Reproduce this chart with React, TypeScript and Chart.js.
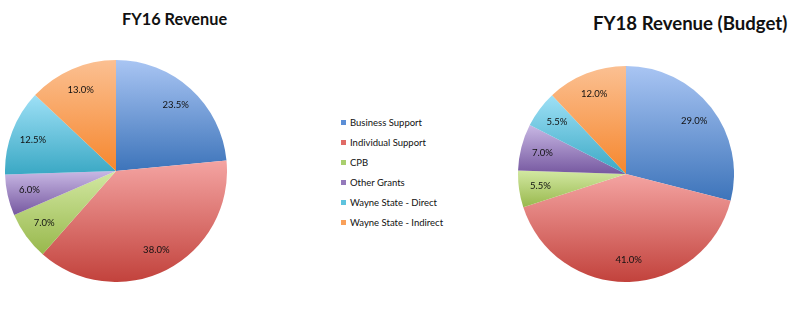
import React, { useEffect, useRef } from "react";
import { Chart, registerables } from "chart.js";

Chart.register(...registerables);

const categories = [
  "Business Support",
  "Individual Support",
  "CPB",
  "Other Grants",
  "Wayne State - Direct",
  "Wayne State - Indirect",
];
const fy16Values = [23.5, 38.0, 7.0, 6.0, 12.5, 13.0];
const fy18Values = [29.0, 41.0, 5.5, 7.0, 5.5, 12.0];
const topColors = ["#a9c5f3", "#f4a4a2", "#d2e8a2", "#c8b8e4", "#9ee0f6", "#fbc092"];
const bottomColors = ["#3d74ba", "#c2423c", "#98b84c", "#7658a0", "#3aa8c4", "#f6872e"];
const legendColors = ["#5b8ed6", "#e06a66", "#a9cf6e", "#9479bb", "#5ec3de", "#f9a05a"];

const FONT = "Lato, 'Open Sans', sans-serif";

function sliceGradient(context: any) {
  const chart = context.chart;
  const area = chart.chartArea;
  const i = context.dataIndex;
  if (!area) return bottomColors[i];
  const data: number[] = context.dataset.data;
  const total = data.reduce((a, b) => a + b, 0);
  let cum = 0;
  for (let k = 0; k < i; k++) cum += data[k];
  const a0 = -Math.PI / 2 + (2 * Math.PI * cum) / total;
  const a1 = -Math.PI / 2 + (2 * Math.PI * (cum + data[i])) / total;
  const cx = (area.left + area.right) / 2;
  const cy = (area.top + area.bottom) / 2;
  const r = Math.min(area.right - area.left, area.bottom - area.top) / 2;
  const ys = [cy, cy + r * Math.sin(a0), cy + r * Math.sin(a1)];
  const within = (a: number) => {
    for (let t = a - 2 * Math.PI; t <= a1 + 1e-9; t += 2 * Math.PI) if (t >= a0) return true;
    return false;
  };
  if (within(Math.PI / 2)) ys.push(cy + r);
  if (within(-Math.PI / 2)) ys.push(cy - r);
  const ymin = Math.min(...ys);
  const ymax = Math.max(...ys);
  const g = chart.ctx.createLinearGradient(0, ymin, 0, ymax + 0.01);
  g.addColorStop(0, topColors[i]);
  g.addColorStop(1, bottomColors[i]);
  return g;
}

const labelPlugin = {
  id: "sliceLabels",
  afterDatasetsDraw(chart: any) {
    const ctx = chart.ctx;
    const meta = chart.getDatasetMeta(0);
    const data: number[] = chart.data.datasets[0].data;
    ctx.save();
    ctx.font = `9.5px ${FONT}`;
    ctx.fillStyle = "#111";
    ctx.textAlign = "center";
    ctx.textBaseline = "middle";
    meta.data.forEach((arc: any, i: number) => {
      const mid = (arc.startAngle + arc.endAngle) / 2;
      const rr = arc.outerRadius * 0.8;
      ctx.fillText(data[i].toFixed(1) + "%", arc.x + Math.cos(mid) * rr, arc.y + Math.sin(mid) * rr);
    });
    ctx.restore();
  },
};

function PieChart({ values, size }: { values: number[]; size: number }) {
  const ref = useRef<HTMLCanvasElement>(null);
  useEffect(() => {
    if (!ref.current) return;
    const chart = new Chart(ref.current, {
      type: "pie",
      data: {
        labels: categories,
        datasets: [
          {
            data: values,
            backgroundColor: sliceGradient as any,
            borderWidth: 0,
          },
        ],
      },
      options: {
        responsive: false,
        animation: false,
        layout: { padding: 0 },
        plugins: { legend: { display: false }, tooltip: { enabled: false } },
      },
      plugins: [labelPlugin],
    });
    return () => chart.destroy();
  }, [values]);
  return <canvas ref={ref} width={size} height={size} style={{ width: size, height: size }} />;
}

export default function App() {
  return (
    <div
      style={{
        position: "absolute",
        left: 0,
        top: 0,
        width: 808,
        height: 310,
        background: "#fff",
        fontFamily: FONT,
        overflow: "hidden",
      }}
    >
      <div
        style={{
          position: "absolute",
          left: 122,
          top: 8,
          fontWeight: 700,
          fontSize: 16.3,
          lineHeight: "22px",
          color: "#111",
          whiteSpace: "nowrap",
        }}
      >
        FY16 Revenue
      </div>
      <div
        style={{
          position: "absolute",
          left: 593,
          top: 11,
          fontWeight: 700,
          fontSize: 18.6,
          lineHeight: "24px",
          color: "#111",
          whiteSpace: "nowrap",
        }}
      >
        FY18 Revenue (Budget)
      </div>
      <div style={{ position: "absolute", left: 5, top: 60 }}>
        <PieChart values={fy16Values} size={222} />
      </div>
      <div style={{ position: "absolute", left: 518, top: 66 }}>
        <PieChart values={fy18Values} size={216} />
      </div>
      <div style={{ position: "absolute", left: 341, top: 112 }}>
        {categories.map((c, i) => (
          <div
            key={c}
            style={{
              height: 20,
              display: "flex",
              alignItems: "center",
              fontSize: 9.5,
              color: "#111",
              whiteSpace: "nowrap",
            }}
          >
            <span
              style={{
                display: "inline-block",
                width: 5,
                height: 5,
                background: legendColors[i],
                marginRight: 4,
              }}
            />
            {c}
          </div>
        ))}
      </div>
    </div>
  );
}
